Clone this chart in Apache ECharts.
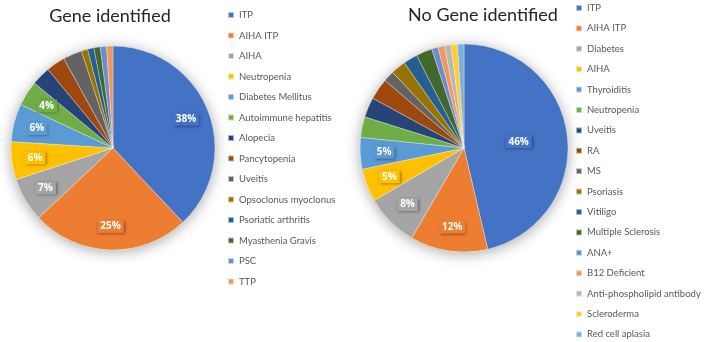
<!DOCTYPE html>
<html>
<head>
<meta charset="utf-8">
<style>
  html, body { margin: 0; padding: 0; background: #fff; }
  #chart { width: 708px; height: 342px; }
</style>
<script src="https://cdn.jsdelivr.net/npm/echarts@6/dist/echarts.min.js"></script>
</head>
<body>
<div id="chart"></div>
<script>
// office palette, same order for both pies
var palette = ["#4472C4", "#ED7D31", "#A5A5A5", "#FFC000", "#5B9BD5", "#70AD47", "#264478", "#9E480E",
  "#636363", "#997300", "#255E91", "#43682B", "#698ED0", "#F1975A", "#B7B7B7", "#FFCD33", "#7CAFDD"];

var geneNames = ["ITP", "AIHA ITP", "AIHA", "Neutropenia", "Diabetes Mellitus", "Autoimmune hepatitis", "Alopecia",
  "Pancytopenia", "Uveitis", "Opsoclonus myoclonus", "Psoriatic arthritis", "Myasthenia Gravis", "PSC", "TTP"];
var geneValues = [38, 25, 7, 6, 6, 4, 3, 3, 3, 1, 1, 1, 1, 1];

var noGeneNames = ["ITP", "AIHA ITP", "Diabetes", "AIHA", "Thyroiditis", "Neutropenia", "Uveitis", "RA", "MS",
  "Psoriasis", "Vitiligo", "Multiple Sclerosis", "ANA+", "B12 Deficient", "Anti-phospholipid antibody",
  "Scleroderma", "Red cell aplasia"];
var noGeneValues = [46.2, 12, 8.2, 5.1, 4.9, 3.2, 3.1, 3.3, 1.7, 2.3, 2.2, 2.5, 1, 1, 1, 1, 1];

var titles = ["Gene identified", "No Gene identified"];

var labelBase = {
  position: "inside",
  color: "#fff",
  fontWeight: "bold",
  fontSize: 10,
  fontFamily: "Open Sans",
  padding: [2, 3, 1, 3],
  shadowBlur: 3,
  shadowColor: "rgba(0,0,0,0.45)",
  shadowOffsetX: 1,
  shadowOffsetY: 1,
  formatter: function (p) { return Math.round(p.percent) + "%"; }
};

function sum(arr) {
  var s = 0;
  for (var i = 0; i < arr.length; i++) s += arr[i];
  return s;
}

// labels only on the bigger slices
function buildData(names, values, withLabels) {
  var total = sum(values);
  var out = [];
  for (var i = 0; i < names.length; i++) {
    out.push({
      name: names[i],
      value: values[i],
      itemStyle: { color: palette[i] },
      label: { show: withLabels && values[i] / total >= 0.035, backgroundColor: palette[i] }
    });
  }
  return out;
}

function pieSeries(names, values, center, r, bigInside) {
  var total = sum(values);
  var biggest = values.indexOf(Math.max.apply(null, values));
  var main = buildData(names, values, false);
  var ring = buildData(names, values, true);
  if (bigInside) {
    // this one sits at half radius, like the reference
    main[biggest].label.show = true;
    ring[biggest].label.show = false;
  }
  for (var i = 0; i < ring.length; i++) {
    ring[i].itemStyle = { color: "rgba(0,0,0,0)" };
  }
  return [
    {
      // soft shadow under the pie
      type: "pie", silent: true, center: center, radius: r, z: 1,
      label: { show: false }, labelLine: { show: false },
      itemStyle: { color: "#fff", shadowBlur: 14, shadowColor: "rgba(0,0,0,0.35)", shadowOffsetY: 2 },
      data: [{ value: total }]
    },
    {
      type: "pie", center: center, radius: r, z: 2, startAngle: 90,
      avoidLabelOverlap: false,
      itemStyle: { borderColor: "rgba(255,255,255,0.6)", borderWidth: 0.5 },
      label: labelBase, labelLine: { show: false },
      data: main
    },
    {
      type: "pie", silent: true, center: center, radius: [r * 0.48, r], z: 3, startAngle: 90,
      avoidLabelOverlap: false,
      label: labelBase, labelLine: { show: false },
      data: ring
    }
  ];
}

function legendData(names) {
  var out = [];
  for (var i = 0; i < names.length; i++) {
    out.push({ name: names[i], itemStyle: { color: palette[i] } });
  }
  return out;
}

var legendText = { color: "#595959", fontSize: 9.5, fontFamily: "Lato", lineHeight: 12 };
var titleText = { fontSize: 18, fontWeight: "normal", color: "#262626", fontFamily: "Lato" };

var myChart = echarts.init(document.getElementById("chart"));
var option = {
  backgroundColor: "#fff",
  animation: false,
  title: [
    { text: titles[0], left: 105, top: 2, textAlign: "center", textStyle: titleText },
    { text: titles[1], left: 478, top: 1, textAlign: "center", textStyle: titleText }
  ],
  legend: [
    { orient: "vertical", left: 227, top: 9, padding: 0, height: 340, icon: "rect", itemWidth: 6, itemHeight: 6,
      itemGap: 8.5, selectedMode: false, textStyle: legendText, data: legendData(geneNames) },
    { orient: "vertical", left: 575, top: 2, padding: 0, height: 340, icon: "rect", itemWidth: 6, itemHeight: 6,
      itemGap: 8.4, selectedMode: false, textStyle: legendText, data: legendData(noGeneNames) }
  ],
  series: pieSeries(geneNames, geneValues, [113, 148], 102, false)
    .concat(pieSeries(noGeneNames, noGeneValues, [464, 148], 104, true))
};
myChart.setOption(option);
</script>
</body>
</html>
